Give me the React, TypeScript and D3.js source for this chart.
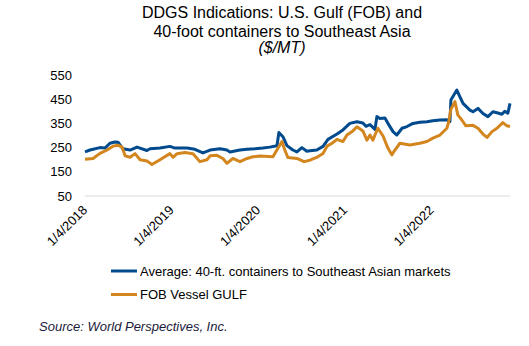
import React from "react";
import * as d3 from "d3";

const titleLines = ["DDGS Indications: U.S. Gulf (FOB) and", "40-foot containers to Southeast Asia", "($/MT)"];
const yTicks = [50, 150, 250, 350, 450, 550];
const xTickDates = ["2018-01-04", "2019-01-04", "2020-01-04", "2021-01-04", "2022-01-04"];
const xTickLabels = ["1/4/2018", "1/4/2019", "1/4/2020", "1/4/2021", "1/4/2022"];
const seriesNames = ["Average: 40-ft. containers to Southeast Asian markets", "FOB Vessel GULF"];
const seriesColors = ["#004A8D", "#D4861E"];
const sourceText = "Source: World Perspectives, Inc.";
const dateDomain = ["2018-01-04", "2022-11-30"];

const containers: [string, number][] = [
  ["2018-01-04", 232], ["2018-01-25", 240], ["2018-03-08", 250], ["2018-03-29", 248],
  ["2018-04-19", 268], ["2018-05-10", 273], ["2018-05-23", 272], ["2018-06-13", 245],
  ["2018-07-13", 240], ["2018-08-11", 252], ["2018-09-22", 238], ["2018-10-05", 245],
  ["2018-11-16", 248], ["2018-12-28", 255], ["2019-01-18", 248], ["2019-03-10", 248],
  ["2019-04-12", 243], ["2019-05-16", 228], ["2019-06-15", 240], ["2019-07-27", 245],
  ["2019-08-25", 240], ["2019-09-07", 232], ["2019-10-19", 240], ["2019-11-18", 243],
  ["2019-12-21", 245], ["2020-01-24", 248], ["2020-02-22", 252], ["2020-03-23", 258],
  ["2020-03-31", 312], ["2020-04-17", 295], ["2020-05-04", 258], ["2020-05-29", 240],
  ["2020-06-15", 232], ["2020-07-06", 250], ["2020-07-27", 235], ["2020-08-09", 237],
  ["2020-09-07", 240], ["2020-10-03", 255], ["2020-10-24", 284], ["2020-12-01", 306],
  ["2020-12-26", 323], ["2021-01-24", 350], ["2021-02-23", 357], ["2021-03-20", 352],
  ["2021-04-02", 338], ["2021-04-19", 345], ["2021-05-10", 325], ["2021-05-18", 378],
  ["2021-05-31", 370], ["2021-06-21", 372], ["2021-07-04", 350], ["2021-07-25", 316],
  ["2021-08-10", 302], ["2021-09-01", 330], ["2021-09-22", 337], ["2021-10-17", 350],
  ["2021-11-15", 355], ["2021-12-15", 357], ["2022-01-09", 361], ["2022-02-08", 364],
  ["2022-03-09", 365], ["2022-03-22", 358], ["2022-03-26", 447], ["2022-04-03", 460],
  ["2022-04-20", 488], ["2022-05-03", 460], ["2022-05-16", 433], ["2022-06-14", 405],
  ["2022-06-27", 398], ["2022-07-18", 412], ["2022-08-08", 391], ["2022-08-29", 378],
  ["2022-09-19", 398], ["2022-10-10", 393], ["2022-10-27", 388], ["2022-11-08", 400],
  ["2022-11-21", 392], ["2022-11-30", 433],
];

const fobGulf: [string, number][] = [
  ["2018-01-04", 202], ["2018-02-07", 205], ["2018-03-08", 226], ["2018-04-07", 240],
  ["2018-05-02", 256], ["2018-05-23", 260], ["2018-06-09", 252], ["2018-06-22", 216],
  ["2018-07-13", 210], ["2018-08-03", 225], ["2018-08-24", 200], ["2018-09-22", 195],
  ["2018-10-13", 180], ["2018-11-16", 200], ["2018-12-28", 225], ["2019-01-10", 210],
  ["2019-01-27", 225], ["2019-03-01", 230], ["2019-04-04", 225], ["2019-05-03", 192],
  ["2019-06-02", 200], ["2019-06-15", 216], ["2019-07-14", 218], ["2019-08-08", 205],
  ["2019-08-25", 185], ["2019-09-19", 205], ["2019-10-19", 192], ["2019-11-18", 205],
  ["2019-12-13", 212], ["2020-01-11", 215], ["2020-03-06", 212], ["2020-03-27", 247],
  ["2020-04-13", 275], ["2020-04-25", 240], ["2020-05-08", 209], ["2020-06-15", 205],
  ["2020-07-15", 192], ["2020-08-09", 198], ["2020-09-11", 212], ["2020-10-03", 226],
  ["2020-10-20", 256], ["2020-11-10", 268], ["2020-12-01", 284], ["2020-12-26", 275],
  ["2021-01-12", 302], ["2021-02-06", 319], ["2021-02-23", 336], ["2021-03-20", 319],
  ["2021-04-06", 281], ["2021-04-19", 302], ["2021-05-01", 281], ["2021-05-22", 330],
  ["2021-06-13", 298], ["2021-07-04", 247], ["2021-07-20", 220], ["2021-08-02", 240],
  ["2021-08-23", 268], ["2021-10-04", 261], ["2021-11-15", 268], ["2021-12-15", 275],
  ["2022-01-09", 289], ["2022-02-08", 302], ["2022-03-09", 330], ["2022-03-17", 357],
  ["2022-03-26", 408], ["2022-04-12", 440], ["2022-04-24", 385], ["2022-05-11", 364],
  ["2022-05-28", 340], ["2022-06-27", 342], ["2022-07-18", 330], ["2022-08-08", 306],
  ["2022-08-25", 292], ["2022-09-15", 316], ["2022-10-06", 330], ["2022-10-31", 353],
  ["2022-11-17", 340], ["2022-11-30", 337],
];

const parse = d3.timeParse("%Y-%m-%d");

export default function App() {
  const W = 529, H = 346;
  const x = d3.scaleTime()
    .domain(dateDomain.map((d) => parse(d) as Date))
    .range([85, 510]);
  const y = d3.scaleLinear().domain([50, 550]).range([196, 75]);
  const line = d3.line<[string, number]>()
    .x((d) => x(parse(d[0]) as Date))
    .y((d) => y(d[1]))
    .curve(d3.curveLinear);
  const series = [containers, fobGulf];
  const font = "'Liberation Sans', Arial, sans-serif";

  return (
    <svg width={W} height={H} style={{ position: "absolute", left: 0, top: 0 }} fontFamily={font}>
      <rect width={W} height={H} fill="#fff" />
      {titleLines.map((t, i) => (
        <text key={i} x={282} y={[18, 37, 53][i]} textAnchor="middle" fontSize={16}
          fontStyle={i === 2 ? "italic" : "normal"} fill="#000">{t}</text>
      ))}
      {yTicks.map((v) => (
        <text key={v} x={72} y={y(v)} dy="0.35em" textAnchor="end" fontSize={13} fill="#000">{v}</text>
      ))}
      <line x1={85} x2={510} y1={y(50)} y2={y(50)} stroke="#d9d9d9" strokeWidth={1} />
      {xTickDates.map((d, i) => {
        const px = x(parse(d) as Date);
        return (
          <text key={d} transform={`translate(${px + 3},${211}) rotate(-45)`} textAnchor="end"
            fontSize={13} fill="#000">{xTickLabels[i]}</text>
        );
      })}
      {series.map((s, i) => (
        <path key={i} d={line(s) || ""} fill="none" stroke={seriesColors[i]} strokeWidth={3}
          strokeLinejoin="round" />
      ))}
      {seriesNames.map((n, i) => (
        <g key={n}>
          <line x1={111} x2={137} y1={271 + i * 23.5} y2={271 + i * 23.5} stroke={seriesColors[i]} strokeWidth={3} />
          <text x={140} y={271 + i * 23.5} dy="0.35em" fontSize={13} fill="#000">{n}</text>
        </g>
      ))}
      <text x={39} y={331} fontSize={13} fontStyle="italic" fill="#1a1a3a">{sourceText}</text>
    </svg>
  );
}
